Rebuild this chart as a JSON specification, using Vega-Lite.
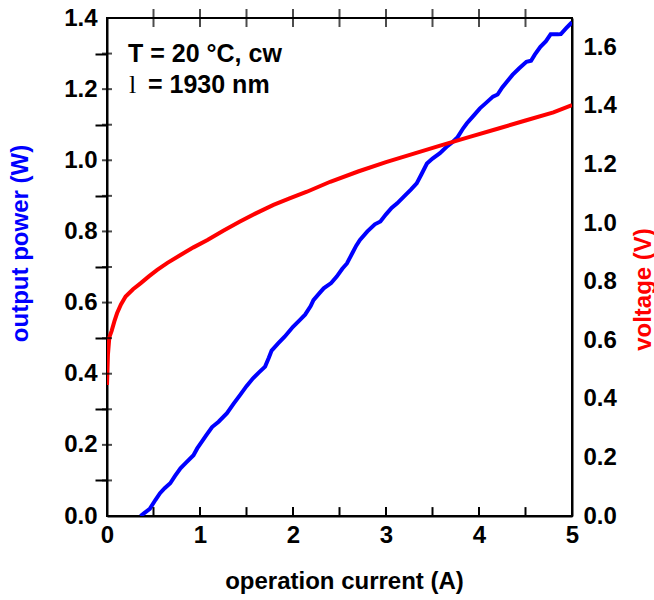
{
  "$schema": "https://vega.github.io/schema/vega-lite/v6.json",
  "width": 465,
  "height": 498,
  "autosize": "none",
  "padding": {"left": 107, "top": 18, "right": 82, "bottom": 84},
  "background": "white",
  "config": {
    "view": {"stroke": "black", "strokeWidth": 2},
    "axis": {
      "labelFont": "Liberation Sans",
      "labelFontWeight": "bold",
      "labelFontSize": 24,
      "labelColor": "black",
      "titleFont": "Liberation Sans",
      "titleFontWeight": "bold",
      "titleFontSize": 24,
      "domainColor": "black",
      "domainWidth": 2,
      "grid": false,
      "labelFlush": false,
      "labelOverlap": false
    }
  },
  "datasets": {
    "power": [
      {"I": 0.36, "P": 0.0}, {"I": 0.40, "P": 0.008}, {"I": 0.46, "P": 0.02}, {"I": 0.52, "P": 0.045},
      {"I": 0.57, "P": 0.064}, {"I": 0.62, "P": 0.078}, {"I": 0.68, "P": 0.092}, {"I": 0.73, "P": 0.112},
      {"I": 0.79, "P": 0.134}, {"I": 0.85, "P": 0.15}, {"I": 0.93, "P": 0.171}, {"I": 0.97, "P": 0.19},
      {"I": 1.02, "P": 0.209}, {"I": 1.07, "P": 0.228}, {"I": 1.13, "P": 0.25}, {"I": 1.2, "P": 0.265},
      {"I": 1.29, "P": 0.289}, {"I": 1.36, "P": 0.315}, {"I": 1.43, "P": 0.34}, {"I": 1.5, "P": 0.365},
      {"I": 1.57, "P": 0.387}, {"I": 1.64, "P": 0.405}, {"I": 1.7, "P": 0.42}, {"I": 1.74, "P": 0.445},
      {"I": 1.77, "P": 0.465}, {"I": 1.84, "P": 0.485}, {"I": 1.91, "P": 0.504}, {"I": 2.0, "P": 0.532},
      {"I": 2.07, "P": 0.55}, {"I": 2.13, "P": 0.566}, {"I": 2.19, "P": 0.59}, {"I": 2.22, "P": 0.607},
      {"I": 2.28, "P": 0.625}, {"I": 2.33, "P": 0.64}, {"I": 2.41, "P": 0.655}, {"I": 2.47, "P": 0.673},
      {"I": 2.53, "P": 0.695}, {"I": 2.58, "P": 0.71}, {"I": 2.64, "P": 0.74}, {"I": 2.68, "P": 0.76},
      {"I": 2.72, "P": 0.776}, {"I": 2.8, "P": 0.8}, {"I": 2.88, "P": 0.82}, {"I": 2.94, "P": 0.828},
      {"I": 3.0, "P": 0.848}, {"I": 3.06, "P": 0.866}, {"I": 3.12, "P": 0.879}, {"I": 3.2, "P": 0.9},
      {"I": 3.27, "P": 0.918}, {"I": 3.33, "P": 0.935}, {"I": 3.38, "P": 0.96}, {"I": 3.44, "P": 0.991},
      {"I": 3.5, "P": 1.005}, {"I": 3.58, "P": 1.02}, {"I": 3.66, "P": 1.04}, {"I": 3.72, "P": 1.052},
      {"I": 3.77, "P": 1.065}, {"I": 3.83, "P": 1.09}, {"I": 3.87, "P": 1.104}, {"I": 3.94, "P": 1.125},
      {"I": 4.01, "P": 1.146}, {"I": 4.07, "P": 1.16}, {"I": 4.15, "P": 1.179}, {"I": 4.2, "P": 1.185},
      {"I": 4.25, "P": 1.205}, {"I": 4.3, "P": 1.221}, {"I": 4.36, "P": 1.24}, {"I": 4.43, "P": 1.258},
      {"I": 4.51, "P": 1.277}, {"I": 4.56, "P": 1.28}, {"I": 4.6, "P": 1.297}, {"I": 4.66, "P": 1.319},
      {"I": 4.72, "P": 1.335}, {"I": 4.77, "P": 1.354}, {"I": 4.85, "P": 1.354}, {"I": 4.88, "P": 1.355},
      {"I": 4.94, "P": 1.372}, {"I": 5.0, "P": 1.388}
    ],
    "voltage": [
      {"I": 0.0, "V": 0.447}, {"I": 0.01, "V": 0.55}, {"I": 0.025, "V": 0.61}, {"I": 0.05, "V": 0.632},
      {"I": 0.08, "V": 0.665}, {"I": 0.108, "V": 0.692}, {"I": 0.15, "V": 0.722}, {"I": 0.2, "V": 0.749},
      {"I": 0.28, "V": 0.774}, {"I": 0.36, "V": 0.794}, {"I": 0.45, "V": 0.818}, {"I": 0.54, "V": 0.84},
      {"I": 0.65, "V": 0.864}, {"I": 0.79, "V": 0.891}, {"I": 0.93, "V": 0.917}, {"I": 1.08, "V": 0.942},
      {"I": 1.25, "V": 0.974}, {"I": 1.43, "V": 1.005}, {"I": 1.6, "V": 1.033}, {"I": 1.79, "V": 1.062},
      {"I": 1.97, "V": 1.085}, {"I": 2.15, "V": 1.107}, {"I": 2.4, "V": 1.141}, {"I": 2.7, "V": 1.176},
      {"I": 3.0, "V": 1.208}, {"I": 3.3, "V": 1.237}, {"I": 3.6, "V": 1.266}, {"I": 3.9, "V": 1.294},
      {"I": 4.2, "V": 1.322}, {"I": 4.5, "V": 1.35}, {"I": 4.8, "V": 1.378}, {"I": 5.0, "V": 1.403}
    ],
    "xticks": [
      {"v": 0.5, "kind": "minor"}, {"v": 1, "kind": "major"}, {"v": 1.5, "kind": "minor"}, {"v": 2, "kind": "major"},
      {"v": 2.5, "kind": "minor"}, {"v": 3, "kind": "major"}, {"v": 3.5, "kind": "minor"}, {"v": 4, "kind": "major"},
      {"v": 4.5, "kind": "minor"}
    ],
    "pticks": [
      {"v": 0.1, "kind": "minor"}, {"v": 0.2, "kind": "major"}, {"v": 0.3, "kind": "minor"}, {"v": 0.4, "kind": "major"},
      {"v": 0.5, "kind": "minor"}, {"v": 0.6, "kind": "major"}, {"v": 0.7, "kind": "minor"}, {"v": 0.8, "kind": "major"},
      {"v": 0.9, "kind": "minor"}, {"v": 1.0, "kind": "major"}, {"v": 1.1, "kind": "minor"}, {"v": 1.2, "kind": "major"},
      {"v": 1.3, "kind": "minor"}
    ],
    "vticks": [
      {"v": 0.1, "kind": "minor"}, {"v": 0.2, "kind": "major"}, {"v": 0.3, "kind": "minor"}, {"v": 0.4, "kind": "major"},
      {"v": 0.5, "kind": "minor"}, {"v": 0.6, "kind": "major"}, {"v": 0.7, "kind": "minor"}, {"v": 0.8, "kind": "major"},
      {"v": 0.9, "kind": "minor"}, {"v": 1.0, "kind": "major"}, {"v": 1.1, "kind": "minor"}, {"v": 1.2, "kind": "major"},
      {"v": 1.3, "kind": "minor"}, {"v": 1.4, "kind": "major"}, {"v": 1.5, "kind": "minor"}, {"v": 1.6, "kind": "major"}
    ],
    "notes": [
      {"I": 0.226, "P": 1.276, "label": "T = 20 °C, cw"},
      {"I": 0.441, "P": 1.189, "label": "= 1930 nm"}
    ],
    "lam": [
      {"I": 0.237, "P": 1.189, "label": "l"}
    ]
  },
  "layer": [
    {
      "data": {"name": "power"},
      "mark": {"type": "line", "color": "#0000ff", "strokeWidth": 4, "clip": true},
      "encoding": {
        "x": {"field": "I", "type": "quantitative", "scale": {"domain": [0, 5], "nice": false, "zero": false},
          "axis": {"orient": "bottom", "values": [0, 1, 2, 3, 4, 5], "ticks": false, "labelPadding": 7,
            "format": "d", "title": "operation current (A)", "titleX": 237, "titleY": 72,
            "titleBaseline": "alphabetic", "titleAlign": "center", "titleColor": "black"}},
        "y": {"field": "P", "type": "quantitative", "scale": {"domain": [0, 1.4], "nice": false, "zero": false},
          "axis": {"orient": "left", "values": [0, 0.2, 0.4, 0.6, 0.8, 1.0, 1.2, 1.4], "ticks": false, "labelPadding": 10,
            "format": ".1f", "title": "output power (W)", "titleColor": "#0000ff", "titleAngle": 270,
            "titleX": -87, "titleY": 225, "titleAlign": "center", "titleBaseline": "middle"}}
      }
    },
    {
      "data": {"name": "voltage"},
      "mark": {"type": "line", "color": "#ff0000", "strokeWidth": 4, "clip": true},
      "encoding": {
        "x": {"field": "I", "type": "quantitative", "scale": {"domain": [0, 5], "nice": false, "zero": false}, "axis": null},
        "y": {"field": "V", "type": "quantitative", "scale": {"domain": [0, 1.7], "nice": false, "zero": false},
          "axis": {"orient": "right", "values": [0, 0.2, 0.4, 0.6, 0.8, 1.0, 1.2, 1.4, 1.6], "ticks": false, "labelPadding": 11,
            "format": ".1f", "title": "voltage (V)", "titleColor": "#ff0000", "titleAngle": 270,
            "titleX": 71, "titleY": 271, "titleAlign": "center", "titleBaseline": "middle"}}
      }
    },
    {
      "data": {"name": "xticks"},
      "mark": {"type": "rule", "color": "black", "strokeWidth": 2},
      "encoding": {
        "x": {"field": "v", "type": "quantitative", "scale": {"domain": [0, 5], "nice": false, "zero": false}, "axis": null},
        "y": {"datum": 0, "type": "quantitative", "scale": {"domain": [0, 1.4], "nice": false, "zero": false}, "axis": null},
        "y2": {"datum": 0.025}
      }
    },
    {
      "data": {"name": "xticks"},
      "mark": {"type": "tick", "orient": "vertical", "color": "black", "thickness": 2, "size": 18},
      "encoding": {
        "x": {"field": "v", "type": "quantitative", "scale": {"domain": [0, 5], "nice": false, "zero": false}, "axis": null},
        "y": {"datum": 1.4, "type": "quantitative", "scale": {"domain": [0, 1.4], "nice": false, "zero": false}, "axis": null}
      }
    },
    {
      "data": {"name": "pticks"},
      "mark": {"type": "point", "shape": "stroke", "color": "black", "strokeWidth": 2, "size": 100, "filled": false},
      "encoding": {
        "x": {"datum": 0, "type": "quantitative", "scale": {"domain": [0, 5], "nice": false, "zero": false}, "axis": null},
        "y": {"field": "v", "type": "quantitative", "scale": {"domain": [0, 1.4], "nice": false, "zero": false},
          "axis": {"orient": "left", "values": [0.1, 0.3, 0.5, 0.7, 0.9, 1.1, 1.3], "ticks": true, "tickSize": 12, "tickColor": "black", "tickWidth": 2, "labels": false, "domain": false, "title": null}}
      }
    },
    {
      "data": {"name": "notes"},
      "mark": {"type": "text", "font": "Liberation Sans", "fontWeight": "bold", "fontSize": 25, "align": "left", "baseline": "alphabetic", "color": "black"},
      "encoding": {
        "x": {"field": "I", "type": "quantitative", "scale": {"domain": [0, 5], "nice": false, "zero": false}, "axis": null},
        "y": {"field": "P", "type": "quantitative", "scale": {"domain": [0, 1.4], "nice": false, "zero": false}, "axis": null},
        "text": {"field": "label"}
      }
    },
    {
      "data": {"name": "lam"},
      "mark": {"type": "text", "font": "Liberation Serif", "fontWeight": "normal", "fontSize": 26, "align": "left", "baseline": "alphabetic", "color": "black"},
      "encoding": {
        "x": {"field": "I", "type": "quantitative", "scale": {"domain": [0, 5], "nice": false, "zero": false}, "axis": null},
        "y": {"field": "P", "type": "quantitative", "scale": {"domain": [0, 1.4], "nice": false, "zero": false}, "axis": null},
        "text": {"field": "label"}
      }
    }
  ],
  "resolve": {
    "scale": {"y": "independent"},
    "axis": {"x": "independent", "y": "independent"}
  }
}
